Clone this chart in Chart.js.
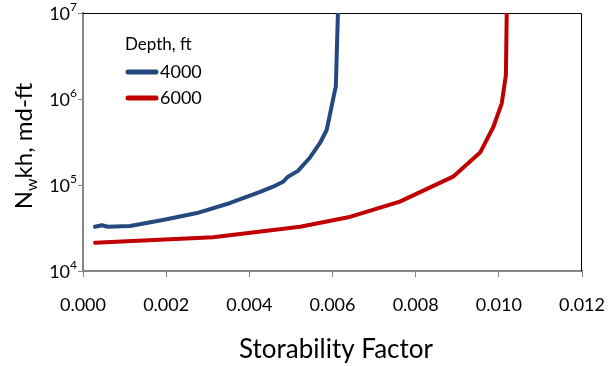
<!DOCTYPE html>
<html><head><meta charset="utf-8">
<script src="https://cdn.jsdelivr.net/npm/chart.js@4.4.1/dist/chart.umd.min.js"></script>
<style>html,body{margin:0;padding:0;background:#fff}#wrap{width:610px;height:366px}</style>
</head><body><div id="wrap"><canvas id="c" width="610" height="366"></canvas></div>
<script>
const seriesNames = ['4000', '6000'];
const legendTitle = 'Depth, ft';
const x4000 = [0.00029, 0.00045, 0.00060, 0.00113, 0.00192, 0.00274, 0.00354, 0.00426, 0.00457, 0.00481, 0.00493, 0.00517, 0.00546, 0.00570, 0.00586, 0.00606, 0.00608, 0.00613];
const y4000 = [32700, 34000, 32700, 33400, 39200, 47200, 61800, 83000, 95500, 109000, 125000, 146000, 209000, 308000, 436000, 1270000, 1390000, 10000000];
const x6000 = [0.00029, 0.00313, 0.00522, 0.00638, 0.00762, 0.00890, 0.00955, 0.00987, 0.01007, 0.01017, 0.01019];
const y6000 = [21300, 24700, 32700, 42100, 64000, 125000, 238000, 476000, 891000, 1900000, 10000000];
const xTicks = [0, 0.002, 0.004, 0.006, 0.008, 0.010, 0.012];
const yTickExps = [4, 5, 6, 7];
const xTitle = 'Storability Factor';
const yTitleParts = ['N', 'w', 'kh, md-ft'];

const colors = ['#24497E', '#C00000'];
const FONT = 'Lato, "Open Sans", sans-serif';

function pts(xs, ys){ return xs.map((x,i)=>({x:x, y:ys[i]})); }

const overlay = {
  id: 'overlay',
  beforeDatasetsDraw(chart){
    const {ctx, chartArea:a} = chart;
    ctx.save();
    ctx.strokeStyle = '#000'; ctx.lineWidth = 1;
    ctx.beginPath();
    ctx.moveTo(a.left, a.top+0.5); ctx.lineTo(a.right-0.5, a.top+0.5); ctx.lineTo(a.right-0.5, a.bottom);
    ctx.stroke();
    ctx.restore();
  },
  afterDraw(chart){
    const {ctx, chartArea:a, scales} = chart;
    const ys = scales.y;
    ctx.save();
    ctx.fillStyle = '#000';
    // y tick labels with superscripts
    yTickExps.forEach(e=>{
      const py = ys.getPixelForValue(Math.pow(10,e));
      ctx.font = '12px ' + FONT;
      ctx.textAlign = 'right'; ctx.textBaseline = 'middle';
      const ew = ctx.measureText(String(e)).width;
      ctx.fillText(String(e), 77, py-6);
      ctx.font = '18px ' + FONT;
      ctx.fillText('10', 77-ew, py+1);
    });
    // x title
    ctx.font = '26px ' + FONT;
    ctx.textAlign = 'center'; ctx.textBaseline = 'middle';
    ctx.fillText(xTitle, 336, 350);
    // y title rotated
    ctx.save();
    ctx.translate(24, 146);
    ctx.rotate(-Math.PI/2);
    const f1 = '24px ' + FONT, f2 = '16px ' + FONT;
    ctx.font = f1; const w0 = ctx.measureText(yTitleParts[0]).width;
    ctx.font = f2; const w1 = ctx.measureText(yTitleParts[1]).width;
    ctx.font = f1; const w2 = ctx.measureText(yTitleParts[2]).width;
    let x0 = -(w0+w1+w2)/2;
    ctx.textAlign = 'left'; ctx.textBaseline = 'middle';
    ctx.font = f1; ctx.fillText(yTitleParts[0], x0, 0); x0 += w0;
    ctx.font = f2; ctx.fillText(yTitleParts[1], x0, 8); x0 += w1;
    ctx.font = f1; ctx.fillText(yTitleParts[2], x0, 0);
    ctx.restore();
    // legend
    ctx.font = '17px ' + FONT;
    ctx.textAlign = 'left'; ctx.textBaseline = 'middle';
    ctx.fillText(legendTitle, 125, 45);
    ctx.font = '18px ' + FONT;
    chart.data.datasets.forEach((ds,i)=>{
      const y = 72 + i*26;
      ctx.strokeStyle = ds.borderColor; ctx.lineWidth = 5; ctx.lineCap = 'round';
      ctx.beginPath(); ctx.moveTo(128, y); ctx.lineTo(156, y); ctx.stroke();
      ctx.fillText(ds.label, 160, y);
    });
    ctx.restore();
  }
};

new Chart(document.getElementById('c'), {
  type: 'line',
  data: {
    datasets: [
      {label: seriesNames[0], data: pts(x4000, y4000), borderColor: colors[0], backgroundColor: colors[0], borderWidth: 4, pointRadius: 0, tension: 0, fill: false, borderCapStyle: 'round', borderJoinStyle: 'round'},
      {label: seriesNames[1], data: pts(x6000, y6000), borderColor: colors[1], backgroundColor: colors[1], borderWidth: 4, pointRadius: 0, tension: 0, fill: false, borderCapStyle: 'round', borderJoinStyle: 'round'}
    ]
  },
  options: {
    responsive: false, animation: false, devicePixelRatio: 1,
    layout: {padding: {left: 0, right: 28, top: 13, bottom: 0}},
    plugins: {legend: {display: false}, tooltip: {enabled: false}},
    scales: {
      x: {
        type: 'linear', min: 0, max: 0.012,
        afterBuildTicks: s => { s.ticks = xTicks.map(v=>({value:v})); },
        afterFit: s => { s.height = 95; s.paddingLeft = 0; s.paddingRight = 0; },
        border: {display: true, color: '#868686', width: 2},
        grid: {drawOnChartArea: false, drawTicks: true, tickLength: 6, color: '#868686', lineWidth: 1},
        ticks: {color: '#000', font: {family: FONT, size: 18}, padding: 17, maxRotation: 0, callback: v => Number(v).toFixed(3)}
      },
      y: {
        type: 'logarithmic', min: 1e4, max: 1e7,
        afterBuildTicks: s => { s.ticks = yTickExps.map(e=>({value: Math.pow(10,e)})); },
        afterFit: s => { s.width = 83; s.paddingTop = 0; s.paddingBottom = 0; },
        border: {display: true, color: '#868686', width: 2},
        grid: {drawOnChartArea: false, drawTicks: true, tickLength: 5, color: '#868686', lineWidth: 1},
        ticks: {display: true, color: 'rgba(0,0,0,0)', font: {size: 1}, callback: () => ''}
      }
    }
  },
  plugins: [overlay]
});
</script>
</body></html>
